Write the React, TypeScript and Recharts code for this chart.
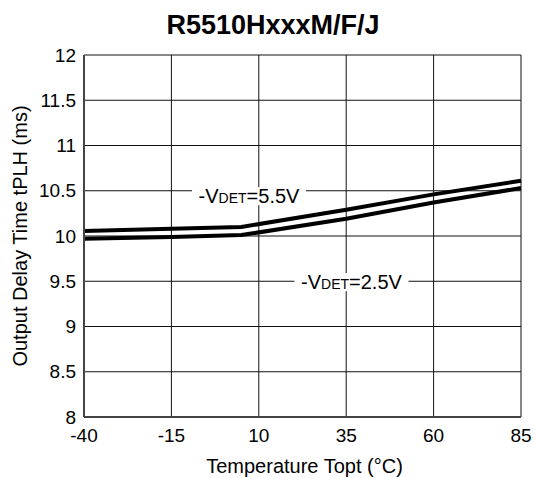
import React from 'react';
import { LineChart, Line, XAxis, YAxis, CartesianGrid, ReferenceDot } from 'recharts';

const temps = [-40, -15, 5, 35, 60, 85];
const vdet55 = [10.055, 10.08, 10.1, 10.29, 10.46, 10.61];
const vdet25 = [9.97, 9.99, 10.01, 10.19, 10.37, 10.53];
const xTicks = [-40, -15, 10, 35, 60, 85];
const yTicks = [8, 8.5, 9, 9.5, 10, 10.5, 11, 11.5, 12];
const labels = [
  { x: 7.2, y: 10.44, value: '5.5' },
  { x: 36.5, y: 9.49, value: '2.5' },
];

const data = temps.map((t, i) => ({ t, a: vdet55[i], b: vdet25[i] }));
const FONT = '"Liberation Sans", Arial, Helvetica, sans-serif';

const LabelShape = (props: any) => {
  const { cx, cy, value } = props;
  const w = 114;
  return (
    <g>
      <rect x={cx - w / 2} y={cy - 9} width={w} height={18} fill="#fff" />
      <text x={cx} y={cy + 7} textAnchor="middle" fontFamily={FONT} fontSize={20} fill="#000">
        <tspan>-V</tspan>
        <tspan fontSize={14}>DET</tspan>
        <tspan>{`=${value}V`}</tspan>
      </text>
    </g>
  );
};

const YLabel = (props: any) => {
  const vb = props.viewBox || {};
  const cy = vb.y + vb.height / 2;
  const x = 27;
  return (
    <text x={x} y={cy} transform={`rotate(-90, ${x}, ${cy})`} textAnchor="middle" fontFamily={FONT} fontSize={20} fill="#000">
      Output Delay Time tPLH (ms)
    </text>
  );
};

const XLabel = (props: any) => {
  const vb = props.viewBox || {};
  const cx = vb.x + vb.width / 2 + 2;
  return (
    <text x={cx} y={473} textAnchor="middle" fontFamily={FONT} fontSize={20} fill="#000">
      Temperature Topt (°C)
    </text>
  );
};

export default function App() {
  return (
    <div style={{ position: 'absolute', left: 0, top: 0, width: 536, height: 478, background: '#fff' }}>
      <div
        style={{
          position: 'absolute',
          left: 0,
          top: 12,
          width: 546,
          textAlign: 'center',
          fontFamily: FONT,
          fontWeight: 'bold',
          fontSize: 27,
          lineHeight: '27px',
        }}
      >
        R5510HxxxM/F/J
      </div>
      <LineChart width={536} height={478} data={data} margin={{ top: 55, right: 15, bottom: 5, left: 4 }}>
        <CartesianGrid stroke="#111" strokeWidth={1} />
        <XAxis
          dataKey="t"
          type="number"
          domain={[-40, 85]}
          ticks={xTicks}
          tickLine={false}
          axisLine={{ stroke: '#444', strokeWidth: 2 }}
          height={56}
          tickMargin={6}
          tick={{ fill: '#000', fontFamily: FONT, fontSize: 19 }}
          label={<XLabel />}
        />
        <YAxis
          type="number"
          domain={[8, 12]}
          ticks={yTicks}
          tickLine={false}
          axisLine={{ stroke: '#444', strokeWidth: 2 }}
          width={80}
          tickMargin={2}
          tick={{ fill: '#000', fontFamily: FONT, fontSize: 19 }}
          label={<YLabel />}
        />
        <Line dataKey="a" stroke="#000" strokeWidth={4} dot={false} isAnimationActive={false} type="linear" />
        <Line dataKey="b" stroke="#000" strokeWidth={4} dot={false} isAnimationActive={false} type="linear" />
        {labels.map((l) => (
          <ReferenceDot key={l.value} x={l.x} y={l.y} r={0} shape={(p: any) => <LabelShape {...p} value={l.value} />} />
        ))}
      </LineChart>
    </div>
  );
}
